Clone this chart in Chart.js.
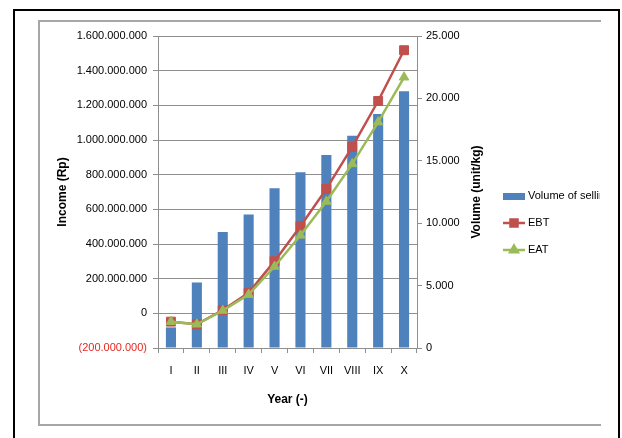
<!DOCTYPE html>
<html>
<head>
<meta charset="utf-8">
<script src="https://cdn.jsdelivr.net/npm/chart.js@4/dist/chart.umd.min.js"></script>
<style>
  html, body { margin: 0; padding: 0; background: #ffffff; }
  canvas { display: block; }
</style>
</head>
<body>
<canvas id="chart" width="622" height="438"></canvas>
<script>
// Years of the projection
const years = ['I', 'II', 'III', 'IV', 'V', 'VI', 'VII', 'VIII', 'IX', 'X'];
// Volume of selling (unit/kg), right axis
const volumeSold = [1650, 5250, 9300, 10700, 12800, 14080, 15460, 17000, 18740, 20580];
// Earnings before tax (Rp), left axis
const ebt = [-48000000, -63000000, 19000000, 119000000, 301000000, 503000000, 718000000, 960000000, 1225000000, 1518000000];
// Earnings after tax (Rp), left axis
const eat = [-48000000, -63000000, 16000000, 108000000, 270000000, 450000000, 645000000, 862000000, 1103000000, 1362000000];

// Axis ranges
const incomeAxis = { min: -200000000, max: 1600000000, step: 200000000 };
const volumeAxis = { min: 0, max: 25000, step: 5000 };

const seriesNames = ['Volume of selling', 'EBT', 'EAT'];
const BLUE = '#4F81BD', RED = '#C0504D', GREEN = '#9BBB59';
const GRID = '#8e8e8e';
const FONT = 'Liberation Sans, Arial, sans-serif';

function dotted(n) {
  const s = Math.abs(n).toString().replace(/\B(?=(\d{3})+(?!\d))/g, '.');
  return n < 0 ? '(' + s + ')' : s;
}

// Outer and inner frames behind the chart
const framePlugin = {
  id: 'frames',
  beforeDraw(chart) {
    const ctx = chart.ctx;
    ctx.save();
    ctx.fillStyle = '#ffffff';
    ctx.fillRect(0, 0, chart.width, chart.height);
    ctx.strokeStyle = '#000000';
    ctx.lineWidth = 2;
    ctx.beginPath();
    ctx.moveTo(14, 440);
    ctx.lineTo(14, 10);
    ctx.lineTo(619, 10);
    ctx.lineTo(619, 440);
    ctx.stroke();
    ctx.strokeStyle = '#a6a6a6';
    ctx.lineWidth = 2;
    ctx.beginPath();
    ctx.moveTo(601, 21);
    ctx.lineTo(39, 21);
    ctx.lineTo(39, 425);
    ctx.lineTo(601, 425);
    ctx.stroke();
    ctx.restore();
  }
};

// Right axis title (reads upward) and the legend beside it
const sidePlugin = {
  id: 'side',
  afterDraw(chart) {
    const ctx = chart.ctx;
    const area = chart.chartArea;
    ctx.save();
    ctx.fillStyle = '#000000';
    ctx.font = 'bold 12px ' + FONT;
    ctx.textAlign = 'center';
    ctx.textBaseline = 'middle';
    ctx.translate(477, (area.top + area.bottom) / 2);
    ctx.rotate(-Math.PI / 2);
    ctx.fillText('Volume (unit/kg)', 0, 0);
    ctx.restore();

    ctx.save();
    ctx.beginPath();
    ctx.rect(490, 150, 110, 130);
    ctx.clip();
    const x0 = 503, x1 = 525, tx = 528;
    const rows = [196, 223, 250];
    ctx.font = '11px ' + FONT;
    ctx.textBaseline = 'middle';
    ctx.textAlign = 'left';
    chart.data.datasets.forEach((ds, i) => {
      const y = rows[i];
      if (ds.type === 'bar') {
        ctx.fillStyle = ds.backgroundColor;
        ctx.fillRect(x0, y - 3, x1 - x0, 7);
      } else {
        ctx.strokeStyle = ds.borderColor;
        ctx.lineWidth = 2.5;
        ctx.beginPath();
        ctx.moveTo(x0, y);
        ctx.lineTo(x1, y);
        ctx.stroke();
        ctx.fillStyle = ds.pointBackgroundColor;
        ctx.strokeStyle = ds.pointBorderColor;
        Chart.helpers.drawPoint(ctx, {
          pointStyle: ds.pointStyle,
          radius: ds.pointStyle === 'rect' ? 5 : 4.5,
          rotation: 0,
          borderWidth: 1
        }, (x0 + x1) / 2, y);
      }
      ctx.fillStyle = '#000000';
      ctx.fillText(ds.label, tx, y);
    });
    ctx.restore();
  }
};

new Chart(document.getElementById('chart'), {
  type: 'bar',
  data: {
    labels: years,
    datasets: [
      {
        type: 'bar',
        label: seriesNames[0],
        data: volumeSold,
        yAxisID: 'y1',
        order: 2,
        backgroundColor: BLUE,
        borderWidth: 0,
        barPercentage: 0.39,
        categoryPercentage: 1.0
      },
      {
        type: 'line',
        label: seriesNames[1],
        data: ebt,
        yAxisID: 'y',
        order: 1,
        borderColor: RED,
        backgroundColor: RED,
        borderWidth: 2.5,
        pointStyle: 'rect',
        pointRadius: 6.3,
        pointBackgroundColor: RED,
        pointBorderColor: RED,
        pointBorderWidth: 1,
        tension: 0
      },
      {
        type: 'line',
        label: seriesNames[2],
        data: eat,
        yAxisID: 'y',
        order: 0,
        borderColor: GREEN,
        backgroundColor: GREEN,
        borderWidth: 2.5,
        pointStyle: 'triangle',
        pointRadius: 5.5,
        pointBackgroundColor: GREEN,
        pointBorderColor: GREEN,
        pointBorderWidth: 1,
        tension: 0
      }
    ]
  },
  options: {
    responsive: false,
    animation: false,
    devicePixelRatio: 1,
    layout: { padding: { left: 39, top: 36, right: 135, bottom: 20 } },
    plugins: {
      legend: { display: false },
      tooltip: { enabled: false }
    },
    scales: {
      x: {
        offset: true,
        grid: { display: true, drawOnChartArea: false, drawTicks: true, tickLength: 5, color: GRID, offset: true },
        border: { display: true, color: GRID, width: 1 },
        ticks: { color: '#000000', font: { family: FONT, size: 11 }, padding: 11, maxRotation: 0 },
        title: { display: true, text: 'Year (-)', color: '#000000', font: { family: FONT, size: 12, weight: 'bold' }, padding: { top: 0, bottom: 11 } },
        afterFit(scale) { scale.height = 70; }
      },
      y: {
        position: 'left',
        min: incomeAxis.min,
        max: incomeAxis.max,
        grid: { color: GRID, lineWidth: 1, drawTicks: true, tickLength: 5 },
        border: { display: true, color: GRID, width: 1 },
        ticks: {
          stepSize: incomeAxis.step,
          padding: 6,
          font: { family: FONT, size: 11 },
          color: (ctx) => (ctx.tick && ctx.tick.value < 0 ? '#e8261f' : '#000000'),
          callback: (v) => dotted(v)
        },
        title: { display: true, text: 'Income (Rp)', color: '#000000', font: { family: FONT, size: 12, weight: 'bold' }, padding: { top: 16, bottom: 0 } },
        afterFit(scale) { scale.width = 119; }
      },
      y1: {
        position: 'right',
        min: volumeAxis.min,
        max: volumeAxis.max,
        grid: { drawOnChartArea: false, drawTicks: true, tickLength: 5, color: GRID },
        border: { display: true, color: GRID, width: 1 },
        ticks: {
          stepSize: volumeAxis.step,
          padding: 4,
          font: { family: FONT, size: 11 },
          color: '#000000',
          callback: (v) => dotted(v)
        },
        afterFit(scale) { scale.width = 70; }
      }
    }
  },
  plugins: [framePlugin, sidePlugin]
});
</script>
</body>
</html>
